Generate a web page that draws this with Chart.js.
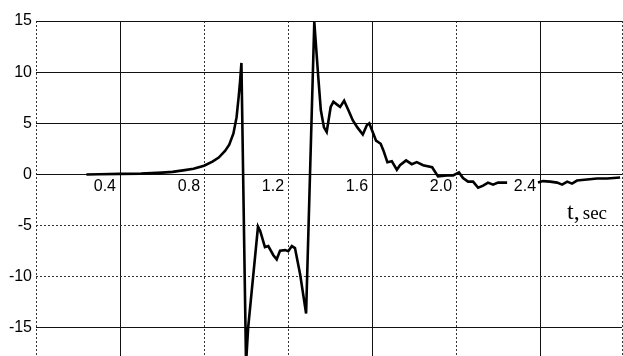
<!DOCTYPE html>
<html lang="en">
<head>
    <meta charset="UTF-8" />
    <title>t, sec</title>
    <style>
        body {
            margin: 0;
            background-color: #fff;
        }
        #wrap {
            width: 623px;
            height: 356px;
        }
    </style>
</head>
<body>
    <div id="wrap">
        <canvas id="chart-1"></canvas>
    </div>

    <script src="https://cdn.jsdelivr.net/npm/chart.js"></script>

    <script>
        // time, sec
        const tValues = [
            0.24, 0.3, 0.4, 0.5, 0.6, 0.65, 0.7, 0.75, 0.8, 0.84,
            0.87, 0.9, 0.92, 0.94, 0.955, 0.965, 0.972, 0.978, 1.0, 1.01,
            1.057, 1.067, 1.09, 1.106, 1.13, 1.146, 1.162, 1.186, 1.201, 1.218,
            1.233, 1.257, 1.286, 1.325, 1.344, 1.356, 1.371, 1.384, 1.403, 1.416,
            1.435, 1.448, 1.467, 1.487, 1.508, 1.53, 1.556, 1.575, 1.587, 1.603,
            1.619, 1.641, 1.654, 1.673, 1.694, 1.718, 1.733, 1.762, 1.789, 1.813,
            1.843, 1.886, 1.914, 1.957, 1.986, 2.014, 2.033, 2.057, 2.081, 2.105,
            2.129, 2.152, 2.176, 2.2, 2.224, 2.243, 2.32, 2.39, 2.414, 2.448,
            2.481, 2.505, 2.529, 2.552, 2.576, 2.624, 2.671, 2.719, 2.781
        ];
        // signal (null = hidden under the 2.4 label)
        const vValues = [
            0, 0.02, 0.05, 0.08, 0.18, 0.25, 0.4, 0.55, 0.85, 1.25,
            1.65, 2.3, 2.9, 4.0, 5.6, 7.6, 9.2, 10.9, -18.5, -15,
            -5.1, -5.5, -7.1, -7.0, -7.9, -8.3, -7.45, -7.4, -7.5, -7.0,
            -7.2, -9.7, -13.6, 14.9, 9.5, 6.3, 4.6, 4.15, 6.6, 7.1,
            6.8, 6.6, 7.2, 6.3, 5.3, 4.6, 3.9, 4.8, 5.0, 4.15,
            3.3, 3.0, 2.35, 1.2, 1.3, 0.46, 0.9, 1.37, 1.0, 1.2,
            0.9, 0.7, -0.2, -0.1, -0.1, 0.2, -0.35, -0.7, -0.7, -1.3,
            -1.1, -0.8, -1.0, -0.8, -0.8, -0.8, null, -0.8, -0.65, -0.7,
            -0.8, -1.0, -0.7, -0.9, -0.6, -0.5, -0.4, -0.4, -0.3
        ];

        const xTicks = [0.4, 0.8, 1.2, 1.6, 2.0, 2.4];
        const xTickLabels = ["0.4", "0.8", "1.2", "1.6", "2.0", "2.4"];
        const yTicks = [-15, -10, -5, 0, 5, 10, 15];
        const yTickLabels = ["-15", "-10", "-5", "0", "5", "10", "15"];

        // which grid lines are solid, the rest are dotted
        const xSolid = [0.4, 1.6, 2.4];
        const ySolid = [-15, 0, 5, 10, 15];

        const X_MIN = 0, X_MAX = 2.79;
        const Y_MIN = -17.75, Y_MAX = 15;

        const isSolid = (ctx, list) => ctx.tick && list.includes(ctx.tick.value);

        const axisTitle = {
            id: "axisTitle",
            afterDraw(chart) {
                const { ctx, chartArea } = chart;
                const y = chart.scales.y.getPixelForValue(-4.36);
                const x = chartArea.right - 15;
                ctx.save();
                ctx.fillStyle = "#000";
                ctx.textAlign = "right";
                ctx.textBaseline = "alphabetic";
                ctx.font = '19px "Liberation Serif", serif';
                ctx.fillText("sec", x, y);
                const w = ctx.measureText("sec").width;
                ctx.font = '24px "Liberation Serif", serif';
                ctx.fillText("t,", x - w - 3, y);
                ctx.restore();
            }
        };

        const ctx = document.getElementById("chart-1").getContext("2d");
        const chart = new Chart(ctx, {
            type: "line",
            data: {
                datasets: [{
                    data: tValues.map((t, i) => ({ x: t, y: vValues[i] })),
                    borderColor: "#000",
                    borderWidth: 2.6,
                    pointRadius: 0,
                    tension: 0,
                    fill: false,
                    spanGaps: false,
                }],
            },
            options: {
                responsive: true,
                maintainAspectRatio: false,
                animation: false,
                layout: { padding: { top: 21, right: 1, bottom: 0, left: 0 } },
                plugins: {
                    legend: { display: false },
                    tooltip: { enabled: false },
                },
                scales: {
                    x: {
                        type: "linear",
                        position: { y: 0 },
                        min: X_MIN,
                        max: X_MAX,
                        afterBuildTicks: (s) => {
                            s.ticks = [X_MIN, ...xTicks, X_MAX].map(v => ({ value: v }));
                        },
                        afterFit: (s) => {
                            s.paddingLeft = 0; s.paddingRight = 0;
                            s.paddingTop = 0; s.paddingBottom = 0;
                        },
                        ticks: {
                            autoSkip: false,
                            maxRotation: 0,
                            align: "end",
                            labelOffset: -4,
                            padding: 3,
                            color: "#000",
                            font: { family: '"Liberation Sans", Arial, sans-serif', size: 16 },
                            callback: (value) => {
                                const i = xTicks.indexOf(value);
                                return i >= 0 ? xTickLabels[i] : "";
                            },
                        },
                        grid: {
                            drawTicks: false,
                            lineWidth: 1,
                            color: (c) => isSolid(c, xSolid) ? "#111" : "#333",
                        },
                        border: {
                            display: false,
                            dash: (c) => isSolid(c, xSolid) ? [] : [2, 2],
                        },
                    },
                    y: {
                        type: "linear",
                        min: Y_MIN,
                        max: Y_MAX,
                        afterBuildTicks: (s) => {
                            s.ticks = yTicks.map(v => ({ value: v }));
                        },
                        afterFit: (s) => {
                            s.width = 36;
                            s.paddingTop = 0; s.paddingBottom = 0;
                        },
                        ticks: {
                            padding: 4,
                            color: "#000",
                            font: { family: '"Liberation Sans", Arial, sans-serif', size: 16 },
                            callback: (value) => {
                                const i = yTicks.indexOf(value);
                                return i >= 0 ? yTickLabels[i] : "";
                            },
                        },
                        grid: {
                            drawTicks: false,
                            lineWidth: 1,
                            color: (c) => isSolid(c, ySolid) ? "#111" : "#333",
                        },
                        border: {
                            display: false,
                            dash: (c) => isSolid(c, ySolid) ? [] : [2, 2],
                        },
                    },
                },
            },
            plugins: [axisTitle],
        });
        console.log(tValues.length, vValues.length, chart.chartArea);
    </script>
</body>
</html>
